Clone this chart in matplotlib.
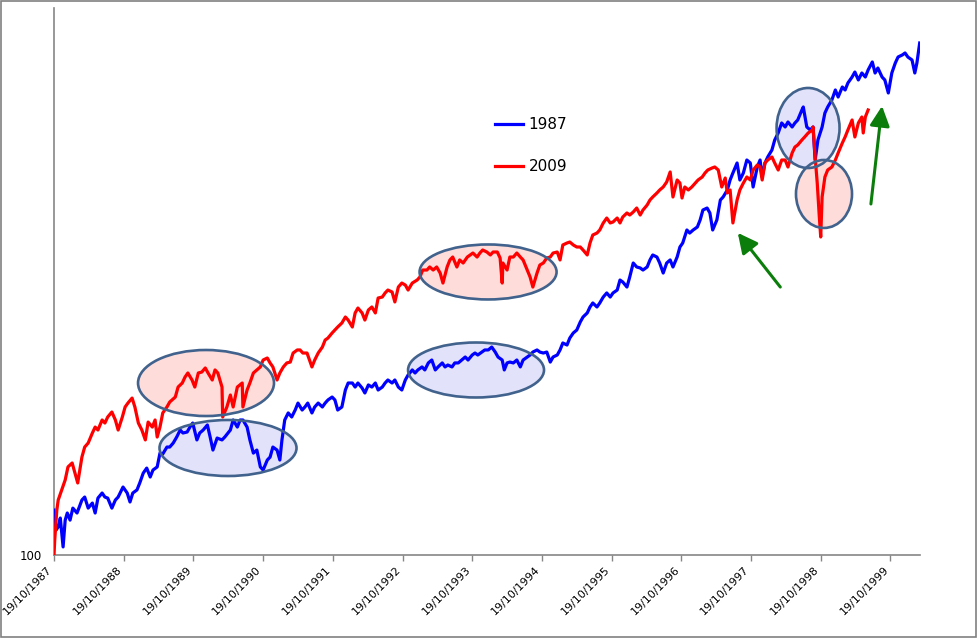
import numpy as np
import matplotlib
matplotlib.use('Agg')
import matplotlib.pyplot as plt
from matplotlib.patches import Ellipse, Rectangle
from matplotlib.ticker import NullLocator

# years elapsed since the low (19/10/1987 for 1987, March 2009 for 2009), index = 100 at start
t_1987 = [0.00, 0.03, 0.06, 0.09, 0.13, 0.16, 0.19, 0.23, 0.27, 0.33, 0.40, 0.44, 0.49, 0.55, 0.59, 0.63,
          0.69, 0.73, 0.77, 0.83, 0.88, 0.92, 0.99, 1.05, 1.09, 1.13, 1.19, 1.23, 1.28, 1.33, 1.38, 1.42,
          1.48, 1.52, 1.56, 1.62, 1.66, 1.71, 1.76, 1.81, 1.85, 1.91, 1.95, 1.99, 2.05, 2.09, 2.14, 2.20,
          2.24, 2.28, 2.34, 2.41, 2.45, 2.53, 2.57, 2.63, 2.67, 2.71, 2.77, 2.81, 2.86, 2.91, 2.96, 3.00,
          3.06, 3.10, 3.14, 3.20, 3.24, 3.27, 3.31, 3.36, 3.41, 3.46, 3.50, 3.56, 3.60, 3.64, 3.70, 3.74,
          3.79, 3.85, 3.89, 3.93, 3.99, 4.03, 4.07, 4.13, 4.18, 4.22, 4.28, 4.32, 4.36, 4.42, 4.46, 4.51,
          4.56, 4.61, 4.65, 4.71, 4.75, 4.79, 4.85, 4.89, 4.94, 4.99, 5.04, 5.08, 5.14, 5.18, 5.22, 5.28,
          5.32, 5.37, 5.42, 5.47, 5.51, 5.57, 5.61, 5.65, 5.71, 5.75, 5.80, 5.85, 5.90, 5.94, 6.00, 6.04,
          6.08, 6.14, 6.18, 6.23, 6.28, 6.33, 6.37, 6.43, 6.46, 6.50, 6.54, 6.59, 6.64, 6.69, 6.73, 6.79,
          6.83, 6.87, 6.93, 6.97, 7.02, 7.07, 7.12, 7.16, 7.22, 7.26, 7.30, 7.36, 7.40, 7.45, 7.50, 7.55,
          7.59, 7.65, 7.69, 7.73, 7.79, 7.83, 7.88, 7.93, 7.98, 8.02, 8.08, 8.12, 8.16, 8.22, 8.26, 8.31,
          8.36, 8.41, 8.45, 8.51, 8.55, 8.59, 8.65, 8.69, 8.74, 8.79, 8.84, 8.88, 8.94, 8.98, 9.02, 9.08,
          9.12, 9.17, 9.23, 9.27, 9.31, 9.37, 9.41, 9.45, 9.51, 9.56, 9.60, 9.66, 9.70, 9.74, 9.80, 9.84,
          9.89, 9.94, 9.99, 10.03, 10.09, 10.13, 10.16, 10.20, 10.24, 10.30, 10.34, 10.39, 10.44, 10.49,
          10.53, 10.59, 10.63, 10.67, 10.73, 10.75, 10.80, 10.85, 10.89, 10.92, 10.96, 11.02, 11.06, 11.10,
          11.16, 11.21, 11.25, 11.31, 11.35, 11.39, 11.45, 11.49, 11.54, 11.59, 11.64, 11.68, 11.74, 11.78,
          11.82, 11.88, 11.92, 11.97, 12.02, 12.07, 12.11, 12.17, 12.21, 12.25, 12.31, 12.35, 12.38, 12.42]
v_1987 = [118.5, 109.9, 111.2, 115.0, 103.1, 114.1, 117.2, 114.1, 119.4, 117.2, 123.1, 124.5, 119.4, 121.7,
          117.2, 124.0, 126.4, 124.5, 124.0, 119.4, 123.1, 124.5, 129.3, 126.4, 122.2, 126.4, 127.9, 131.3,
          136.3, 138.9, 134.3, 137.9, 139.5, 147.0, 146.5, 150.4, 150.4, 152.7, 156.2, 160.4, 158.6, 159.2,
          162.2, 164.7, 154.5, 158.6, 160.4, 163.5, 156.2, 148.7, 155.6, 154.5, 156.2, 160.4, 166.6, 162.2,
          166.6, 166.6, 162.2, 154.5, 147.0, 148.7, 139.5, 137.9, 143.2, 144.8, 150.4, 148.7, 143.2, 154.5,
          166.6, 171.1, 168.5, 173.0, 177.6, 173.0, 175.0, 177.6, 171.1, 175.0, 177.6, 175.0, 177.6, 179.7,
          181.7, 179.7, 173.0, 175.0, 186.6, 191.6, 191.6, 188.7, 191.6, 188.0, 184.5, 190.2, 188.7, 191.6,
          186.6, 188.7, 191.6, 193.8, 191.6, 193.8, 188.7, 186.6, 193.8, 197.5, 201.3, 199.0, 201.3, 203.6,
          201.3, 206.7, 209.0, 201.3, 203.6, 206.7, 203.6, 205.1, 203.6, 206.7, 206.7, 209.0, 211.4, 209.0,
          213.0, 214.6, 213.0, 215.4, 217.1, 217.1, 219.5, 215.4, 211.4, 209.0, 201.3, 206.7, 207.4, 206.7,
          209.0, 203.6, 209.0, 211.4, 213.0, 215.4, 217.1, 215.4, 214.6, 215.4, 207.4, 211.4, 213.0, 217.1,
          222.9, 221.2, 227.1, 231.5, 234.1, 241.3, 245.9, 249.7, 255.4, 259.3, 255.4, 259.3, 265.2, 269.3,
          265.2, 269.3, 272.3, 282.8, 280.7, 275.4, 286.1, 301.6, 297.1, 296.0, 293.7, 297.1, 305.1, 310.9,
          308.5, 301.6, 290.4, 301.6, 305.1, 297.1, 308.5, 320.4, 325.3, 341.7, 337.8, 341.7, 345.6, 354.9,
          368.5, 371.3, 364.4, 341.7, 354.9, 382.7, 387.1, 397.5, 412.8, 423.9, 440.2, 412.8, 423.9, 445.2,
          440.2, 402.0, 433.6, 445.2, 417.5, 440.2, 450.3, 462.4, 480.2, 493.1, 512.1, 504.4, 514.0, 504.4,
          512.1, 517.9, 537.9, 544.0, 504.4, 498.7, 504.4, 445.2, 480.2, 504.4, 531.8, 544.0, 558.6, 580.1,
          564.9, 586.7, 580.1, 595.7, 609.3, 620.9, 602.5, 618.6, 609.3, 625.7, 644.9, 618.6, 630.4, 609.3,
          602.5, 573.6, 618.6, 642.5, 657.2, 662.2, 667.2, 657.2, 649.8, 618.6, 642.5, 692.9]

t_2009 = [0.00, 0.01, 0.04, 0.06, 0.11, 0.16, 0.20, 0.26, 0.30, 0.34, 0.40, 0.44, 0.49, 0.55, 0.59, 0.63,
          0.69, 0.73, 0.77, 0.83, 0.88, 0.92, 0.98, 1.02, 1.06, 1.12, 1.16, 1.21, 1.26, 1.31, 1.35, 1.41,
          1.45, 1.48, 1.52, 1.56, 1.62, 1.66, 1.74, 1.78, 1.84, 1.88, 1.92, 1.98, 2.02, 2.07, 2.12, 2.17,
          2.21, 2.27, 2.31, 2.35, 2.41, 2.42, 2.48, 2.53, 2.57, 2.63, 2.70, 2.71, 2.77, 2.81, 2.86, 2.91,
          2.96, 3.00, 3.06, 3.10, 3.14, 3.20, 3.24, 3.29, 3.34, 3.39, 3.43, 3.49, 3.53, 3.57, 3.63, 3.70,
          3.74, 3.79, 3.85, 3.89, 3.93, 3.99, 4.03, 4.07, 4.13, 4.18, 4.22, 4.28, 4.32, 4.36, 4.42, 4.46,
          4.51, 4.56, 4.61, 4.65, 4.71, 4.75, 4.79, 4.85, 4.89, 4.94, 4.99, 5.04, 5.08, 5.14, 5.21, 5.25,
          5.29, 5.35, 5.39, 5.44, 5.49, 5.54, 5.58, 5.64, 5.68, 5.72, 5.78, 5.82, 5.87, 5.93, 5.97, 6.01,
          6.07, 6.11, 6.15, 6.21, 6.26, 6.30, 6.36, 6.40, 6.43, 6.44, 6.50, 6.54, 6.59, 6.64, 6.69, 6.73,
          6.79, 6.83, 6.87, 6.93, 6.97, 7.02, 7.07, 7.12, 7.16, 7.22, 7.26, 7.30, 7.36, 7.40, 7.45, 7.50,
          7.55, 7.59, 7.65, 7.69, 7.73, 7.79, 7.83, 7.88, 7.93, 7.98, 8.02, 8.08, 8.12, 8.16, 8.22, 8.26,
          8.31, 8.36, 8.41, 8.45, 8.51, 8.55, 8.59, 8.65, 8.69, 8.74, 8.79, 8.84, 8.88, 8.94, 8.98, 9.01,
          9.05, 9.10, 9.15, 9.20, 9.24, 9.30, 9.34, 9.38, 9.44, 9.48, 9.53, 9.58, 9.63, 9.66, 9.70, 9.74,
          9.80, 9.84, 9.89, 9.94, 9.99, 10.03, 10.09, 10.13, 10.16, 10.20, 10.24, 10.30, 10.34, 10.39,
          10.44, 10.49, 10.53, 10.59, 10.63, 10.67, 10.73, 10.77, 10.82, 10.88, 10.89, 10.92, 10.95, 10.98,
          11.00, 11.02, 11.06, 11.10, 11.16, 11.21, 11.25, 11.31, 11.35, 11.39, 11.45, 11.49, 11.54, 11.59,
          11.61, 11.64, 11.68]
v_2009 = [100.0, 105.8, 118.5, 123.1, 127.9, 132.8, 139.5, 141.6, 136.3, 131.3, 144.8, 150.4, 152.7, 158.6,
          162.2, 160.4, 166.6, 164.7, 168.5, 171.7, 166.6, 160.4, 168.5, 175.0, 177.6, 181.0, 175.0, 164.7,
          160.4, 154.5, 165.3, 162.2, 166.6, 156.2, 162.2, 171.1, 175.0, 178.3, 181.7, 188.7, 191.6, 196.0,
          199.0, 193.8, 188.7, 199.0, 199.7, 202.8, 199.0, 193.8, 201.3, 199.0, 188.7, 168.5, 175.0, 183.1,
          175.0, 188.7, 191.6, 175.0, 186.6, 191.6, 199.0, 201.3, 203.6, 209.0, 210.6, 206.7, 203.6, 193.8,
          199.0, 203.6, 206.7, 207.4, 214.6, 217.1, 217.1, 214.6, 214.6, 203.6, 209.0, 214.6, 219.5, 225.4,
          227.1, 231.5, 234.1, 236.8, 240.4, 245.9, 243.1, 236.8, 249.7, 254.4, 249.7, 243.1, 252.5, 255.4,
          249.7, 264.2, 265.2, 269.3, 272.3, 270.3, 260.3, 275.4, 279.6, 277.5, 272.3, 279.6, 282.8, 286.1,
          293.7, 293.7, 297.1, 293.7, 297.1, 290.4, 279.6, 297.1, 305.1, 308.5, 297.1, 305.1, 301.6, 308.5,
          310.9, 313.2, 308.5, 313.2, 316.8, 314.4, 310.9, 314.4, 314.4, 307.4, 279.6, 301.6, 293.7, 308.5,
          308.5, 313.2, 308.5, 305.1, 293.7, 286.1, 275.4, 290.4, 299.3, 301.6, 307.4, 308.5, 313.2, 314.4,
          305.1, 322.9, 325.3, 326.5, 322.9, 320.4, 320.4, 316.8, 310.9, 325.3, 335.3, 337.8, 341.7, 350.9,
          357.5, 350.9, 352.2, 357.5, 350.9, 358.9, 364.4, 361.6, 365.7, 371.3, 361.6, 368.5, 375.6, 382.7,
          387.1, 393.0, 397.5, 402.0, 409.7, 425.5, 387.1, 412.8, 408.1, 385.6, 402.0, 397.5, 402.0, 408.1,
          412.8, 417.5, 423.9, 428.7, 431.9, 433.6, 428.7, 402.0, 415.9, 393.0, 397.5, 350.9, 382.7, 397.5,
          408.1, 417.5, 412.8, 428.7, 436.9, 433.6, 412.8, 440.2, 445.2, 450.3, 440.2, 428.7, 445.2, 445.2,
          433.6, 457.2, 467.6, 471.2, 480.2, 485.7, 493.1, 498.7, 504.4, 450.3, 408.1, 358.9, 332.8, 387.1,
          417.5, 428.7, 433.6, 445.2, 457.2, 474.8, 485.7, 498.7, 517.9, 485.7, 512.1, 523.8, 493.1, 523.8,
          537.9]

series_names = ['1987', '2009']
tick_labels = ['19/10/%d' % y for y in range(1987, 2000)]

# highlighted regions (axes fraction): centre x, centre y, width, height, kind
ellipses = [(0.1755, 0.3144, 0.1570, 0.1207, 'red'),
            (0.2009, 0.1956, 0.1582, 0.1024, 'blue'),
            (0.5012, 0.5174, 0.1582, 0.1005, 'red'),
            (0.4873, 0.3382, 0.1570, 0.1005, 'blue'),
            (0.8707, 0.7806, 0.0727, 0.1463, 'blue'),
            (0.8891, 0.6600, 0.0647, 0.1243, 'red')]
# arrows (data coords): head (t, v), tail (t, v)
arrows = [((9.81, 338.0), (10.42, 275.4)),
          ((11.88, 546.0), (11.72, 377.0))]

fig = plt.figure(figsize=(9.77, 6.38), dpi=100)
ax = fig.add_axes([0.0553, 0.1301, 0.8864, 0.8574])

ax.plot(t_1987, v_1987, color='#0000FF', lw=2.3, label=series_names[0], zorder=3)
ax.plot(t_2009, v_2009, color='#FF0000', lw=2.3, label=series_names[1], zorder=4)

fills = {'red': '#FDDCDA', 'blue': '#E2E3FA'}
for cx, cy, w, h, kind in ellipses:
    ax.add_patch(Ellipse((cx, cy), w, h, transform=ax.transAxes, facecolor=fills[kind],
                         edgecolor='none', zorder=1))
    ax.add_patch(Ellipse((cx, cy), w, h, transform=ax.transAxes, facecolor='none',
                         edgecolor='#41628C', lw=1.9, zorder=5))

for head, tail in arrows:
    ax.annotate('', xy=head, xytext=tail,
                arrowprops=dict(arrowstyle='-|>,head_length=0.6,head_width=0.3', color='#0B7D0B',
                                lw=2.2, mutation_scale=20, shrinkA=0, shrinkB=0))

ax.set_yscale('log')
ax.set_ylim(100, 791)
ax.set_xlim(0, 12.425)
ax.yaxis.set_minor_locator(NullLocator())
ax.set_yticks([100])
ax.set_yticklabels(['100'])
ax.set_xticks(np.arange(len(tick_labels)))
ax.set_xticklabels(tick_labels, rotation=45, ha='right', fontsize=8)
ax.tick_params(axis='y', length=0, pad=9, labelsize=8.5)
ax.tick_params(axis='x', length=4, width=1, color='#868686', pad=3, direction='out')

for s in ['top', 'right']:
    ax.spines[s].set_visible(False)
for s in ['left', 'bottom']:
    ax.spines[s].set_color('#868686')
    ax.spines[s].set_linewidth(1.2)

ax.legend(loc='upper left', bbox_to_anchor=(0.509, 0.80), frameon=False, fontsize=11,
          handlelength=1.85, handletextpad=0.35, labelspacing=1.75, borderpad=0, borderaxespad=0)

fig.patches.append(Rectangle((0.0008, 0.0012), 0.998, 0.997, transform=fig.transFigure,
                             fill=False, edgecolor='#808080', lw=1.2))

fig.savefig('out.png', dpi=100)
